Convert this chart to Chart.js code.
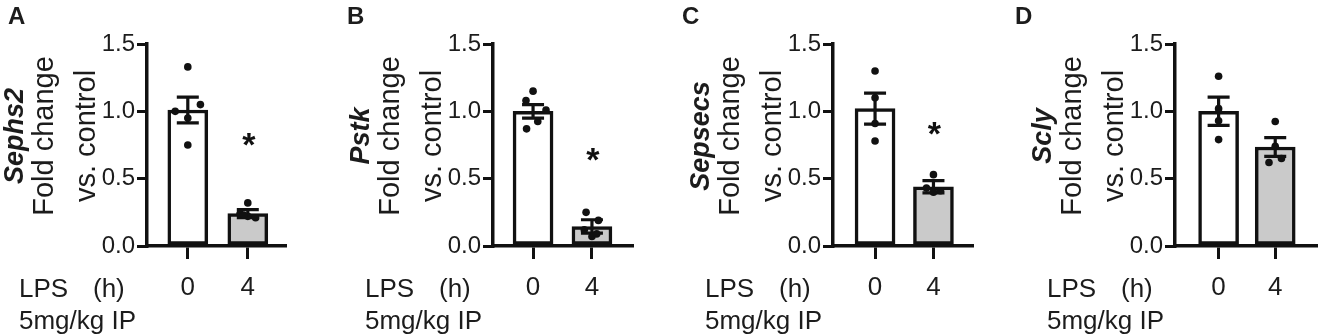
<!DOCTYPE html>
<html>
<head>
<meta charset="utf-8">
<script src="https://cdn.jsdelivr.net/npm/chart.js@4.4.1/dist/chart.umd.min.js"></script>
<style>
  html, body { margin: 0; padding: 0; background: #fff; }
  body { width: 1318px; height: 336px; position: relative; overflow: hidden; }
  canvas { position: absolute; top: 0; }
</style>
</head>
<body>
<canvas id="panel0"></canvas>
<canvas id="panel1"></canvas>
<canvas id="panel2"></canvas>
<canvas id="panel3"></canvas>

<script>
// LPS time points (h) on the x axis
const lpsHours = ['0', '4'];
const panelLetters = ['A', 'B', 'C', 'D'];
const genes = ['Sephs2', 'Pstk', 'Sepsecs', 'Scly'];
const yTicks = [0, 0.5, 1.0, 1.5];

// group means and SEM (fold change vs. control)
const meanCtrl = [1.01, 1.00, 1.02, 1.00];
const semCtrl = [0.095, 0.05, 0.115, 0.105];
const meanLps = [0.24, 0.145, 0.44, 0.735];
const semLps = [0.03, 0.05, 0.045, 0.07];

// individual animals
const ptsCtrl = [
    [1.33, 1.05, 1.00, 0.95, 0.75],
    [1.15, 1.08, 1.01, 0.925, 0.87],
    [1.30, 1.10, 0.91, 0.78],
    [1.26, 1.02, 0.93, 0.79]
];
const ptsLps = [
    [0.32, 0.24, 0.22, 0.21, 0.23],
    [0.25, 0.19, 0.12, 0.07, 0.09],
    [0.53, 0.43, 0.40, 0.41],
    [0.925, 0.74, 0.65, 0.62]
];
// horizontal scatter of the dots inside a bar
const jitterCtrl = [
    [0, 0.21, -0.21, 0, 0],
    [0, -0.12, 0.22, 0.08, -0.11],
    [0, 0, 0, 0],
    [0, 0, 0, 0]
];
const jitterLps = [
    [0, -0.13, 0, 0.13, -0.07],
    [-0.1, 0.11, -0.13, 0, 0.08],
    [0, -0.12, 0, 0.12],
    [0, 0, 0.11, -0.11]
];
// height of the significance star over the LPS bar
const starY = [0.81, 0.70, 0.89, null];

// page layout of each panel
const layout = [
    { left: 0, width: 330, axis: 147, right: 285, xMin: -0.68, xMax: 1.62, letterX: 8 },
    { left: 330, width: 330, axis: 493, right: 632, xMin: -0.68, xMax: 1.68, letterX: 347 },
    { left: 660, width: 330, axis: 833, right: 972, xMin: -0.72, xMax: 1.66, letterX: 682 },
    { left: 988, width: 332, axis: 1175, right: 1320, xMin: -0.77, xMax: 1.72, letterX: 1015 }
];

const FONT = '"Liberation Sans", Arial, Helvetica, sans-serif';
const INK = '#111';
const TEXT = '#1c1c1c';

const panelDecor = {
    id: 'panelDecor',
    afterDatasetDraw(chart, args, opts) {
        if (args.meta.type !== 'bar') return;
        const i = opts.index;
        const ctx = chart.ctx;
        const xs = chart.scales.x, ys = chart.scales.y;
        const means = [meanCtrl[i], meanLps[i]];
        const sems = [semCtrl[i], semLps[i]];
        ctx.save();
        ctx.strokeStyle = INK;
        ctx.lineWidth = 3.2;
        means.forEach((m, j) => {
            const x = xs.getPixelForValue(j);
            const yHi = ys.getPixelForValue(m + sems[j]);
            const yLo = ys.getPixelForValue(m - sems[j]);
            ctx.beginPath();
            ctx.moveTo(x, yHi); ctx.lineTo(x, yLo);
            ctx.moveTo(x - 11, yHi); ctx.lineTo(x + 11, yHi);
            ctx.moveTo(x - 11, yLo); ctx.lineTo(x + 11, yLo);
            ctx.stroke();
        });
        ctx.restore();
    },
    afterDraw(chart, args, opts) {
        const i = opts.index;
        const ctx = chart.ctx;
        const ax = chart.chartArea.left;
        const xs = chart.scales.x, ys = chart.scales.y;
        ctx.save();
        ctx.fillStyle = TEXT;

        // panel letter
        ctx.font = 'bold 24px ' + FONT;
        ctx.textAlign = 'left';
        ctx.textBaseline = 'alphabetic';
        ctx.fillText(panelLetters[i], layout[i].letterX - layout[i].left, 24);

        // y axis titles
        const rot = (text, x, font) => {
            ctx.save();
            ctx.translate(x, 136);
            ctx.rotate(-Math.PI / 2);
            ctx.font = font;
            ctx.textAlign = 'center';
            ctx.fillText(text, 0, 0);
            ctx.restore();
        };
        rot(genes[i], ax - 124, 'italic bold 27px ' + FONT);
        rot('Fold change', ax - 94, '29px ' + FONT);
        rot('vs. control', ax - 52, '29px ' + FONT);

        // treatment row
        ctx.font = '26px ' + FONT;
        ctx.textAlign = 'left';
        ctx.fillText('LPS', ax - 128, 297);
        ctx.fillText('(h)', ax - 54, 297);
        ctx.fillText('5mg/kg IP', ax - 128, 329);

        // significance
        if (starY[i] !== null) {
            ctx.font = 'bold 34px ' + FONT;
            ctx.textAlign = 'center';
            ctx.fillStyle = INK;
            ctx.fillText('*', xs.getPixelForValue(1) + 1, ys.getPixelForValue(starY[i]) + 19);
        }
        ctx.restore();
    }
};

function buildPanel(i) {
    const L = layout[i];
    const canvas = document.getElementById('panel' + i);
    canvas.width = L.width;
    canvas.height = 336;
    canvas.style.left = L.left + 'px';
    const axisRel = L.axis - L.left;

    const dots = [];
    ptsCtrl[i].forEach((v, k) => dots.push({ x: jitterCtrl[i][k], y: v }));
    ptsLps[i].forEach((v, k) => dots.push({ x: 1 + jitterLps[i][k], y: v }));

    new Chart(canvas, {
        type: 'bar',
        data: {
            datasets: [{
                type: 'scatter',
                data: dots,
                backgroundColor: INK,
                borderWidth: 0,
                pointRadius: 3.8,
                order: 1
            }, {
                type: 'bar',
                data: [{ x: 0, y: meanCtrl[i] }, { x: 1, y: meanLps[i] }],
                backgroundColor: ['#ffffff', '#cacaca'],
                borderColor: INK,
                borderWidth: 3.5,
                borderSkipped: false,
                barThickness: 40,
                order: 2
            }]
        },
        options: {
            responsive: false,
            animation: false,
            layout: { padding: { left: axisRel - 60, right: L.width - (L.right - L.left), top: 44, bottom: 0 } },
            plugins: {
                legend: { display: false },
                tooltip: { enabled: false },
                panelDecor: { index: i }
            },
            scales: {
                x: {
                    type: 'linear',
                    offset: false,
                    min: L.xMin,
                    max: L.xMax,
                    afterBuildTicks: (s) => { s.ticks = lpsHours.map((h, k) => ({ value: k })); },
                    afterFit: (s) => { s.height = 90; },
                    ticks: {
                        callback: (v) => lpsHours[v],
                        font: { family: FONT, size: 26 },
                        color: TEXT,
                        padding: 13,
                        maxRotation: 0,
                        autoSkip: false
                    },
                    grid: { offset: false, drawOnChartArea: false, drawTicks: true, tickLength: 13, tickWidth: 3, tickColor: INK, lineWidth: 3, color: INK },
                    border: { display: true, width: 3.5, color: INK }
                },
                y: {
                    min: 0,
                    max: 1.5,
                    afterBuildTicks: (s) => { s.ticks = yTicks.map(v => ({ value: v })); },
                    afterFit: (s) => { s.width = 60; },
                    ticks: {
                        callback: (v) => v.toFixed(1),
                        font: { family: FONT, size: 24 },
                        color: TEXT,
                        padding: 2
                    },
                    grid: { drawOnChartArea: false, drawTicks: true, tickLength: 10, tickWidth: 3, tickColor: INK, lineWidth: 3, color: INK },
                    border: { display: true, width: 3.5, color: INK }
                }
            }
        },
        plugins: [panelDecor]
    });
}

document.addEventListener('DOMContentLoaded', () => {
    genes.forEach((g, i) => buildPanel(i));
});
</script>
</body>
</html>
